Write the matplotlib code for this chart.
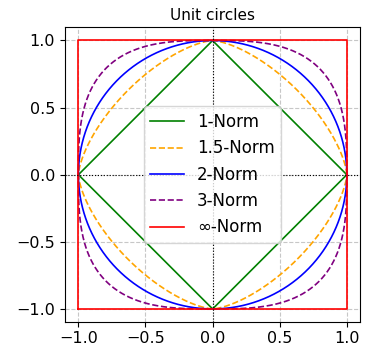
import numpy as np
import matplotlib.pyplot as plt

# norms to draw
p_values = [1, 1.5, 2, 3, np.inf]
labels = ['1-Norm', '1.5-Norm', '2-Norm', '3-Norm', '∞-Norm']
colors = ['green', 'orange', 'blue', 'purple', 'red']
styles = ['-', '--', '-', '--', '-']

fig, ax = plt.subplots(figsize=(3.65, 3.47), dpi=100)

t = np.linspace(0, 2 * np.pi, 2001)
for p, lab, c, ls in zip(p_values, labels, colors, styles):
    if np.isinf(p):
        x = np.array([-1, 1, 1, -1, -1])
        y = np.array([-1, -1, 1, 1, -1])
    else:
        x = np.sign(np.cos(t)) * np.abs(np.cos(t)) ** (2 / p)
        y = np.sign(np.sin(t)) * np.abs(np.sin(t)) ** (2 / p)
    ax.plot(x, y, color=c, linestyle=ls, linewidth=1.2, label=lab)

ax.axhline(0, color='black', linestyle=':', linewidth=0.8)
ax.axvline(0, color='black', linestyle=':', linewidth=0.8)
ax.grid(True, linestyle='--', alpha=0.7)
ax.set_aspect('equal')
ax.set_xticks([-1.0, -0.5, 0.0, 0.5, 1.0])
ax.set_yticks([-1.0, -0.5, 0.0, 0.5, 1.0])
ax.tick_params(labelsize=11.5)
ax.tick_params(axis='x', pad=3)
ax.set_title('Unit circles', fontsize=11, pad=5)
ax.legend(loc='center', fontsize=12)

fig.subplots_adjust(left=0.175, right=0.99, top=0.922, bottom=0.071)
fig.savefig('out.png', dpi=100)
